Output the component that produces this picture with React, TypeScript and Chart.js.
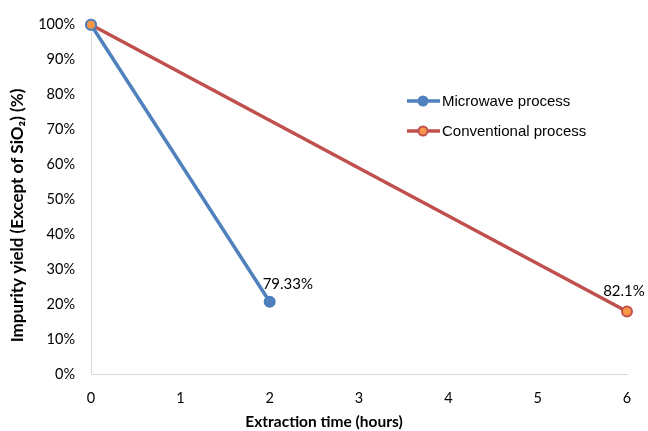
import React, { useEffect, useRef } from "react";
import { Chart, registerables } from "chart.js";

Chart.register(...registerables);

const seriesNames = ["Microwave process", "Conventional process"];
const microwaveX = [0, 2];
const microwaveY = [100, 20.67];
const conventionalX = [0, 6];
const conventionalY = [100, 17.9];
const endLabels = ["79.33%", "82.1%"];
const xTitle = "Extraction time (hours)";
const yTitle = "Impurity yield (Except of SiO\u2082) (%)";

const BLUE = "#4F81BD";
const RED = "#C0504D";
const ORANGE = "#F79646";
const TICK_FONT = "Lato, 'Open Sans', sans-serif";

const overlayPlugin = {
  id: "overlay",
  afterDatasetsDraw(chart: any) {
    const ctx = chart.ctx;
    ctx.save();
    // end labels
    const offsets = [
      { dx: -7, dy: -18, align: "left" },
      { dx: -3, dy: -20, align: "center" },
    ];
    chart.data.datasets.forEach((ds: any, i: number) => {
      const meta = chart.getDatasetMeta(i);
      const last = meta.data[meta.data.length - 1];
      ctx.font = "15px " + TICK_FONT;
      ctx.fillStyle = "#000";
      ctx.textAlign = offsets[i].align;
      ctx.textBaseline = "middle";
      ctx.fillText(endLabels[i], last.x + offsets[i].dx, last.y + offsets[i].dy);
    });
    // legend
    const lx = 407;
    const ly = [101, 131];
    chart.data.datasets.forEach((ds: any, i: number) => {
      ctx.strokeStyle = ds.borderColor;
      ctx.lineWidth = 3.5;
      ctx.beginPath();
      ctx.moveTo(lx, ly[i]);
      ctx.lineTo(lx + 33, ly[i]);
      ctx.stroke();
      ctx.beginPath();
      ctx.arc(lx + 16, ly[i], 4.5, 0, Math.PI * 2);
      ctx.fillStyle = i === 0 ? BLUE : ORANGE;
      ctx.fill();
      ctx.lineWidth = 2;
      ctx.strokeStyle = ds.borderColor;
      ctx.stroke();
      ctx.font = "15px 'Liberation Sans', Arial, sans-serif";
      ctx.fillStyle = "#000";
      ctx.textAlign = "left";
      ctx.textBaseline = "middle";
      ctx.fillText(ds.label, lx + 35, ly[i] + 1);
    });
    // axis titles centered on the canvas
    ctx.fillStyle = "#000";
    ctx.textAlign = "center";
    ctx.textBaseline = "middle";
    ctx.font = "bold 15.5px " + TICK_FONT;
    ctx.fillText(xTitle, chart.width / 2, 422);
    ctx.font = "bold 17px " + TICK_FONT;
    ctx.translate(18, chart.height / 2);
    ctx.rotate(-Math.PI / 2);
    ctx.fillText(yTitle, 0, 0);
    ctx.restore();
  },
};

export default function App() {
  const ref = useRef<HTMLCanvasElement>(null);
  useEffect(() => {
    document.body.style.margin = "0";
    const chart = new Chart(ref.current as HTMLCanvasElement, {
      type: "scatter",
      data: {
        datasets: [
          {
            label: seriesNames[0],
            data: microwaveX.map((x, i) => ({ x, y: microwaveY[i] })),
            showLine: true,
            borderColor: BLUE,
            borderWidth: 3.5,
            pointRadius: 5,
            pointBackgroundColor: BLUE,
            pointBorderColor: "#4A7EBB",
            pointBorderWidth: 2,
            order: 2,
          },
          {
            label: seriesNames[1],
            data: conventionalX.map((x, i) => ({ x, y: conventionalY[i] })),
            showLine: true,
            borderColor: RED,
            borderWidth: 3.5,
            pointRadius: 5,
            pointBackgroundColor: ORANGE,
            pointBorderColor: [BLUE, RED],
            pointBorderWidth: 2,
            order: 1,
          },
        ],
      },
      options: {
        animation: false,
        responsive: false,
        clip: false as any,
        layout: { padding: { top: 21, right: 21, left: 0, bottom: 0 } },
        plugins: { legend: { display: false }, tooltip: { enabled: false } },
        scales: {
          x: {
            type: "linear",
            min: 0,
            max: 6,
            ticks: {
              stepSize: 1,
              padding: 16,
              color: "#000",
              font: { family: TICK_FONT, size: 14.5 },
            },
            grid: { display: true, color: "transparent", drawTicks: false },
            border: { display: true, color: "#D9D9D9", width: 1 },
            afterFit(scale: any) {
              scale.height = 57;
            },
          },
          y: {
            min: 0,
            max: 100,
            ticks: {
              stepSize: 10,
              padding: 16,
              color: "#000",
              font: { family: TICK_FONT, size: 14.5 },
              callback: (v: any) => v + "%",
            },
            grid: { display: true, color: "transparent", drawTicks: false },
            border: { display: true, color: "#D9D9D9", width: 1 },
            afterFit(scale: any) {
              scale.width = 91;
            },
          },
        },
      },
      plugins: [overlayPlugin],
    });
    return () => chart.destroy();
  }, []);
  return <canvas ref={ref} width={648} height={431} style={{ display: "block" }} />;
}
